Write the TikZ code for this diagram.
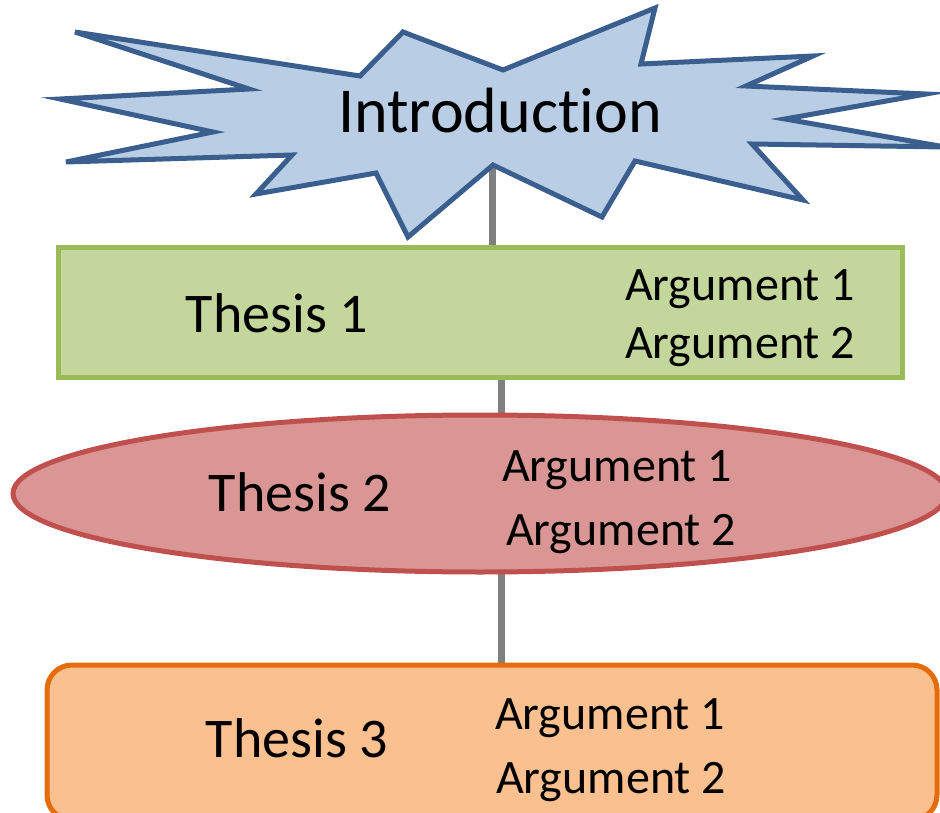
\documentclass[tikz,border=0pt]{standalone}
\usepackage{fontspec}
\setmainfont[Ligatures=NoCommon]{Carlito}
\usepackage{tikz}
\usetikzlibrary{shapes.geometric,backgrounds}
\definecolor{starbg}{HTML}{B9CDE5}
\definecolor{starln}{HTML}{3A5F8E}
\definecolor{onebg}{HTML}{C3D69B}
\definecolor{oneln}{HTML}{9BBB59}
\definecolor{twobg}{HTML}{D99694}
\definecolor{twoln}{HTML}{C0504D}
\definecolor{threebg}{HTML}{FAC090}
\definecolor{threeln}{HTML}{E46C0A}
\definecolor{spine}{HTML}{808080}
\tikzset{
  shp/.style   ={inner sep=0pt, line width=5pt},
  thesisbox/.style={shp, rectangle, draw=oneln, fill=onebg},
  thesisell/.style={shp, ellipse, draw=twoln, fill=twobg},
  thesisrnd/.style={shp, rectangle, rounded corners=25pt, draw=threeln, fill=threebg},
  ttl/.style   ={anchor=base, inner sep=0pt, font=\fontsize{64}{77}\selectfont},
  th/.style    ={anchor=base, inner sep=0pt, font=\fontsize{56}{67}\selectfont},
  arg/.style   ={anchor=base, inner sep=0pt, font=\fontsize{48}{58}\selectfont},
  link/.style  ={draw=spine, line width=7pt},
}
\begin{document}
\begin{tikzpicture}[x=1pt,y=-1pt]
\useasboundingbox (0,0) rectangle (940,813);
\clip (0,0) rectangle (940,813);
% introduction burst
\draw[fill=starbg, draw=starln, line width=5pt, line join=miter]
  (75,32) -- (360,76) -- (403,32) -- (503,70) -- (655,8) -- (641,64)
  -- (813,56) -- (746,86) -- (926,94) -- (785,119) -- (945,147) -- (752,144)
  -- (803,200) -- (635,161) -- (602,217) -- (493,165) -- (408,237) -- (376,173)
  -- (256,194) -- (292,155) -- (66,162) -- (213,132) -- (60,99) -- (249,89) -- cycle;
\node[ttl] (intro) at (500,133) {Introduction};
\coordinate (introtip) at (492,165);
\coordinate (mid) at (501,0);
% three theses
\node[thesisbox, minimum width=844, minimum height=129] (t1) at (480,312.5) {};
\node[thesisell, minimum width=934, minimum height=157] (t2) at (480,493.5) {};
\node[thesisrnd, minimum width=890, minimum height=155] (t3) at (492,742.5) {};
\node[th] (t1name) at (277,332) {Thesis 1};
\node[arg] (t1a) at (740,301) {Argument 1};
\node[arg] (t1b) at (740,358) {Argument 2};
\node[th] (t2name) at (300,511) {Thesis 2};
\node[arg] (t2a) at (617,481) {Argument 1};
\node[arg] (t2b) at (621,545) {Argument 2};
\node[th] (t3name) at (297,757) {Thesis 3};
\node[arg] (t3a) at (610,729) {Argument 1};
\node[arg] (t3b) at (611,793) {Argument 2};
\begin{scope}[on background layer]
\draw[link] (introtip) -- (introtip |- t1.north);
\draw[link] (t1.south -| mid) -- (t2.center -| mid);
\draw[link] (t2.center -| mid) -- (t3.north -| mid);
\end{scope}
\end{tikzpicture}
\end{document}
